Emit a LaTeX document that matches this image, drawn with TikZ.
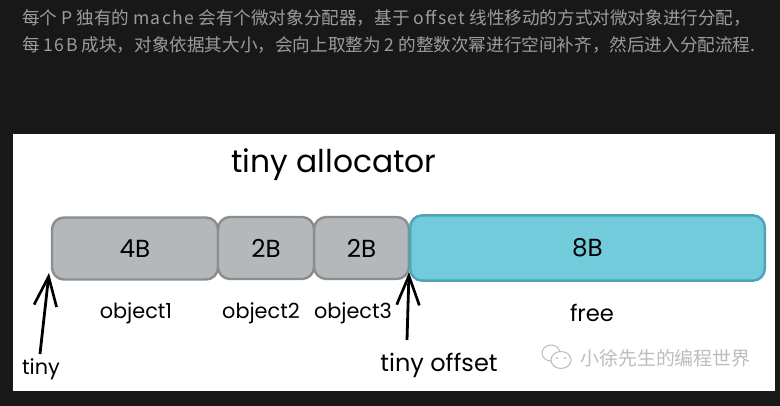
\documentclass[tikz,border=0pt]{standalone}
\usepackage{fontspec}
\usepackage{xcolor}
\usetikzlibrary{arrows.meta, positioning, shapes.geometric}
\setmainfont{Poppins}
\newfontfamily\cjk{Noto Sans CJK SC}
\newfontfamily\bodylatin{Noto Sans CJK SC}[LetterSpace=8]
\newcommand{\lat}[1]{{\bodylatin #1}}
\definecolor{pagebg}{HTML}{181818}
\definecolor{bodytext}{HTML}{9C9C9C}
\definecolor{objfill}{HTML}{B4B8BB}
\definecolor{objedge}{HTML}{8A8E91}
\definecolor{freefill}{HTML}{72CBDA}
\definecolor{freeedge}{HTML}{4CA5B5}
\definecolor{markgray}{HTML}{BDBDBD}
\tikzset{
  objblock/.style={draw=objedge, fill=objfill, line width=1.8pt, rounded corners=9pt,
    minimum height=46.5pt, inner sep=0pt, font=\fontsize{18.5}{22}\selectfont},
  freeblock/.style={objblock, draw=freeedge, fill=freefill, minimum height=49pt},
  handlabel/.style={inner sep=0pt, text=black, font=\fontsize{15.6}{18}\selectfont},
  pointer/.style={-{Straight Barb[length=22pt, width=17pt, line width=2pt]}, line width=2.1pt, black},
  bodyline/.style={inner sep=0pt, anchor=west, text=bodytext, font=\cjk\fontsize{13.2}{15}\selectfont},
}
\begin{document}
\begin{tikzpicture}[x=0.75pt, y=-0.75pt]
  \useasboundingbox (0,0) rectangle (780,406);
  \fill[pagebg] (0,0) rectangle (780,406);
  \fill[white] (13,134) rectangle (775,391);

  \node[bodyline] (lineone) at (22,18) {每个 \lat{P} 独有的 \lat{mache} 会有个微对象分配器，基于 \lat{offset} 线性移动的方式对微对象进行分配，};
  \node[bodyline] (linetwo) at (22,45) {每 \lat{16B} 成块，对象依据其大小，会向上取整为 \lat{2} 的整数次幂进行空间补齐，然后进入分配流程.};

  \node[handlabel, font=\fontsize{23.5}{28}\selectfont] (title) at (334,165) {tiny allocator};

  \node[objblock, minimum width=124.5pt] (blockone) at (135,248.5) {4B};
  \node[objblock, minimum width=72pt] (blocktwo) at (266,248) {2B};
  \node[objblock, minimum width=71pt] (blockthree) at (361.5,248) {2B};
  \node[freeblock, minimum width=266pt] (blockfree) at (587.5,248) {8B};

  \node[handlabel] (labelone) at (136,313) {object1};
  \node[handlabel] (labeltwo) at (261,313) {object2};
  \node[handlabel] (labelthree) at (353,313) {object3};
  \node[handlabel, font=\fontsize{17}{20}\selectfont] (labelfree) at (592,313) {free};

  \coordinate (tinytip) at (49,273);
  \coordinate (tinytail) at (40,354);
  \coordinate (offsettip) at (409,272);
  \coordinate (offsettail) at (407,340);
  \draw[pointer] (tinytail) -- (tinytip);
  \draw[pointer] (offsettail) -- (offsettip);

  \node[handlabel] (tinytext) at (41,369) {tiny};
  \node[handlabel, font=\fontsize{18}{21}\selectfont] (offsettext) at (439,365) {tiny offset};

  % watermark
  \draw[markgray, line width=0.8pt, fill=white] (551,353) ellipse (9 and 8);
  \draw[markgray, line width=0.8pt, fill=white] (561,360) ellipse (10 and 8.5);
  \fill[markgray] (557,358) circle (1.2) (565,358) circle (1.2);
  \node[inner sep=0pt, anchor=west, text=markgray, font=\cjk\fontsize{14.2}{16}\selectfont] (mark) at (580,358) {小徐先生的编程世界};
\end{tikzpicture}
\end{document}
